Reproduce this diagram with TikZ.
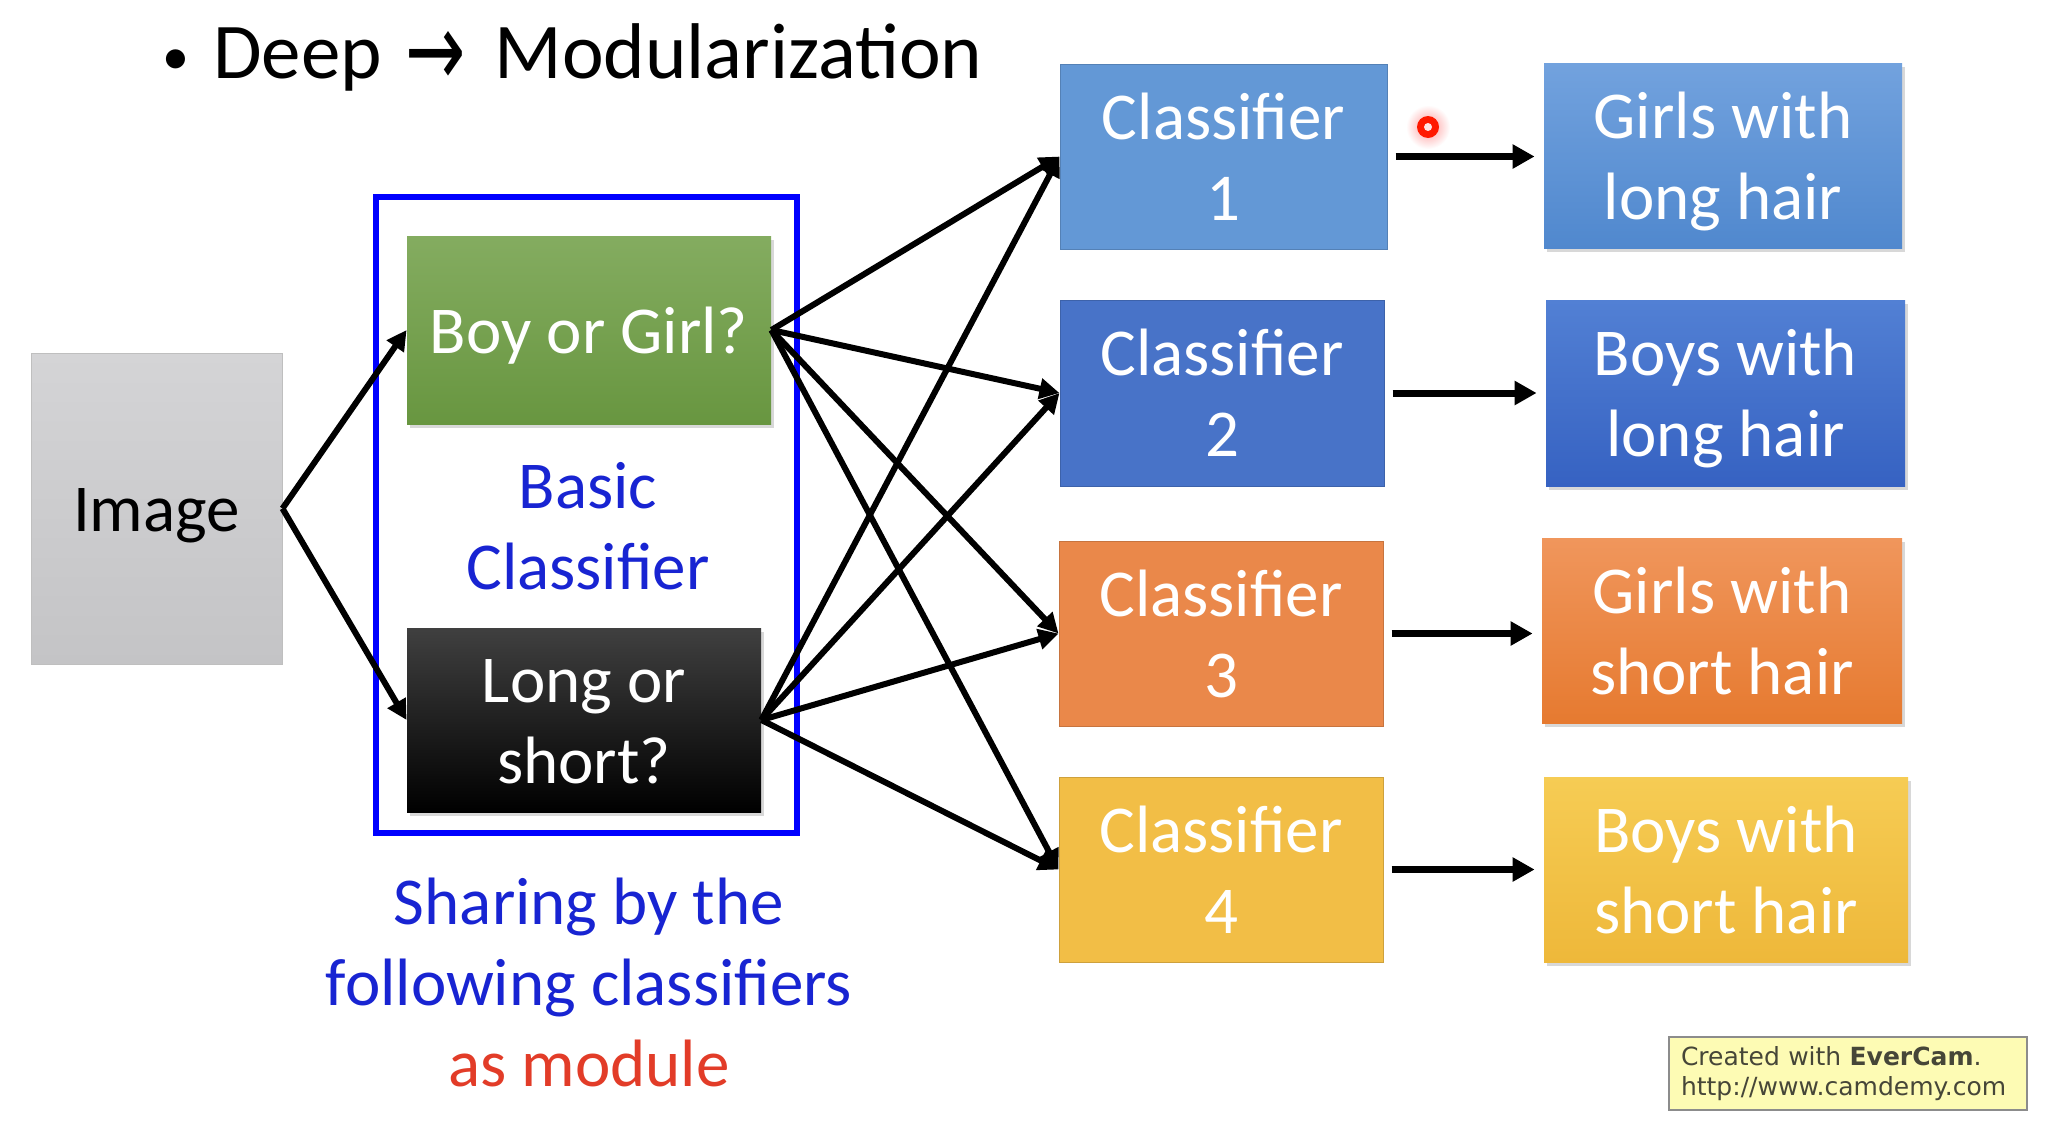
\documentclass[tikz,border=0pt]{standalone}
\usepackage{fontspec}
\usepackage{graphicx}
\setmainfont{Carlito}
\newfontfamily\wmfont{DejaVu Sans}
\usetikzlibrary{arrows.meta,shadows}
\definecolor{imgtop}{RGB}{212,212,214}
\definecolor{imgbot}{RGB}{196,196,198}
\definecolor{greentop}{RGB}{132,172,96}
\definecolor{greenbot}{RGB}{104,150,64}
\definecolor{cone}{RGB}{99,152,214}
\definecolor{ctwo}{RGB}{72,115,200}
\definecolor{cthree}{RGB}{234,136,74}
\definecolor{cfour}{RGB}{242,190,70}
\definecolor{oonetop}{RGB}{114,162,222}
\definecolor{oonebot}{RGB}{80,136,206}
\definecolor{otwotop}{RGB}{82,128,212}
\definecolor{otwobot}{RGB}{54,98,194}
\definecolor{othreetop}{RGB}{240,150,92}
\definecolor{othreebot}{RGB}{230,122,48}
\definecolor{ofourtop}{RGB}{246,204,84}
\definecolor{ofourbot}{RGB}{238,184,58}
\definecolor{labelblue}{RGB}{24,36,210}
\definecolor{labelred}{RGB}{226,60,40}
\definecolor{wmfill}{RGB}{253,251,180}
\definecolor{wmtext}{RGB}{70,70,56}
\newcommand\bx[1]{\raisebox{-3.6pt}[\height][\depth]{\begin{tabular}{@{}c@{}}#1\end{tabular}}}
\begin{document}
\begin{tikzpicture}[x=0.5pt,y=-0.5pt,
  boxtext/.style={font=\fontsize{33.5}{40.5}\selectfont, text=white, inner sep=0pt},
  clsbox/.style={boxtext, rectangle, minimum width=162pt, minimum height=92.5pt},
  outbox/.style={boxtext, rectangle, minimum width=180pt, minimum height=92.5pt,
    drop shadow={shadow xshift=1.5pt, shadow yshift=-2pt, opacity=0.3}},
  conn/.style={line width=3pt, -{Triangle[length=10pt,width=10pt]}},
  hconn/.style={line width=3.5pt, -{Triangle[length=11pt,width=11.5pt]}, shorten <=4pt, shorten >=4.5pt},
  bluelabel/.style={font=\fontsize{33.5}{40.5}\selectfont, text=labelblue, inner sep=0pt}
]
\useasboundingbox (0,0) rectangle (2048,1130);
\fill[white] (0,0) rectangle (2048,1130);

% title
\node[anchor=base, font=\fontsize{27}{30}\selectfont, inner sep=0pt] (bullet) at (176,74) {•};
\node[anchor=base west, font=\fontsize{39.5}{45}\selectfont, inner sep=0pt] (title) at (213,78)
  {Deep\hspace{11.5pt}\raisebox{-4pt}{\scalebox{1}[1.45]{\wmfont\fontsize{36}{40}\selectfont →}}\hspace{14.5pt}Modularization};

% image
\node[boxtext, text=black, minimum width=125.5pt, minimum height=155.5pt,
  top color=imgtop, bottom color=imgbot, draw=black!25, line width=0.5pt] (img) at (156.5,508.5) {\bx{Image}};

% frame
\draw[blue, line width=3pt] (376,197) rectangle (797,833);

% basic classifiers
\node[boxtext, minimum width=182pt, minimum height=94pt, top color=greentop, bottom color=greenbot,
  drop shadow={shadow xshift=1.5pt, shadow yshift=-2pt, opacity=0.3}] (bg) at (589,330) {\bx{Boy or Girl?}};
\node[boxtext, minimum width=177pt, minimum height=92pt, top color=black!75, bottom color=black,
  drop shadow={shadow xshift=1.5pt, shadow yshift=-2pt, opacity=0.3}] (ls) at (584,720) {\bx{Long or\\short?}};

\node[bluelabel] (basic) at (588,526) {\bx{Basic\\Classifier}};
\node[bluelabel] (sharing) at (589,982) {\bx{Sharing by the\\following classifiers\\\textcolor{labelred}{as module}}};

% classifiers
\node[clsbox, fill=cone, draw=cone!85!black, line width=0.5pt, minimum width=163.5pt] (c1) at (1223.5,156.5) {\bx{Classifier\\1}};
\node[clsbox, fill=ctwo, draw=ctwo!85!black, line width=0.5pt, minimum height=93pt] (c2) at (1222,393) {\bx{Classifier\\2}};
\node[clsbox, fill=cthree, draw=cthree!85!black, line width=0.5pt] (c3) at (1221,633.5) {\bx{Classifier\\3}};
\node[clsbox, fill=cfour, draw=cfour!85!black, line width=0.5pt] (c4) at (1221,869.5) {\bx{Classifier\\4}};

% outputs
\node[outbox, top color=oonetop, bottom color=oonebot, minimum width=179pt] (o1) at (1723,155.5) {\bx{Girls with\\long hair}};
\node[outbox, top color=otwotop, bottom color=otwobot, minimum width=179.5pt, minimum height=93pt] (o2) at (1725.5,393) {\bx{Boys with\\long hair}};
\node[outbox, top color=othreetop, bottom color=othreebot] (o3) at (1722,630.5) {\bx{Girls with\\short hair}};
\node[outbox, top color=ofourtop, bottom color=ofourbot, minimum width=182pt] (o4) at (1726,869.5) {\bx{Boys with\\short hair}};

% connectors
\draw[conn] (img.east) -- (bg.west);
\draw[conn] (img.east) -- (ls.west);
\foreach \c in {c1,c2,c3,c4}{
  \draw[conn] (bg.east) -- (\c.west);
  \draw[conn] (ls.east) -- (\c.west);
}
\draw[hconn] (c1.east) -- (c1.east -| o1.west);
\draw[hconn] (c2.east) -- (c2.east -| o2.west);
\draw[hconn] (c3.east) -- (c3.east -| o3.west);
\draw[hconn] (c4.east) -- (c4.east -| o4.west);

% pointer dot
\shade[inner color=red!40, outer color=white] (1428,127) circle (11pt);
\fill[red!80!orange] (1428,127) circle (5.5pt);
\fill[red!10] (1428,127) circle (2pt);

% watermark
\node[rectangle, fill=wmfill, draw=black!45, line width=0.6pt, minimum width=179pt, minimum height=36.5pt,
  text width=167pt, inner xsep=6pt, inner ysep=0pt, align=left, text=wmtext,
  font=\wmfont\fontsize{12.5}{15}\selectfont] (wm) at (1848,1073.5)
  {Created with \textbf{EverCam}.\\http://www.camdemy.com};
\end{tikzpicture}
\end{document}
